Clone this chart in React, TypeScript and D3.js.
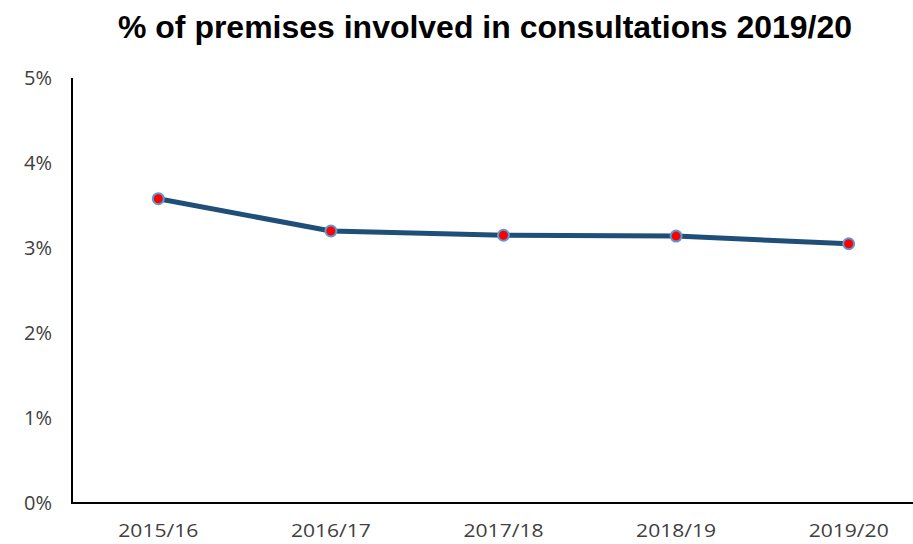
import React from "react";
import * as d3 from "d3";

const categories = ["2015/16", "2016/17", "2017/18", "2018/19", "2019/20"];
const values = [3.58, 3.2, 3.15, 3.14, 3.05];
const yTicks = [0, 1, 2, 3, 4, 5];
const title = "% of premises involved in consultations 2019/20";

export default function App() {
  const W = 913, H = 544;
  const left = 72, right = 935, top = 78, bottom = 503;
  const x = d3.scaleBand().domain(categories).range([left, right]);
  const y = d3.scaleLinear().domain([0, 5]).range([bottom, top]);
  const line = d3
    .line<number>()
    .x((_, i) => (x(categories[i]) as number) + x.bandwidth() / 2)
    .y((d) => y(d));
  const tickFont = "'Open Sans', 'Liberation Sans', sans-serif";
  return (
    <svg
      width={W}
      height={H}
      style={{ position: "absolute", left: 0, top: 0, background: "#fff" }}
    >
      <text
        x={485}
        y={38}
        textAnchor="middle"
        fontFamily="'Liberation Sans Narrow', 'Arial Narrow', 'Liberation Sans', sans-serif"
        fontWeight="bold"
        fontSize={31}
        textLength={734}
        lengthAdjust="spacingAndGlyphs"
        fill="#000"
      >
        {title}
      </text>
      {yTicks.map((t) => (
        <text
          key={t}
          x={52}
          y={y(t)}
          dy="0.36em"
          textAnchor="end"
          fontFamily={tickFont}
          fontSize={20}
          fill="#404040"
        >
          {t + "%"}
        </text>
      ))}
      {categories.map((c) => (
        <text
          key={c}
          x={(x(c) as number) + x.bandwidth() / 2}
          y={537}
          textAnchor="middle"
          fontFamily={tickFont}
          fontSize={19}
          textLength={80}
          lengthAdjust="spacingAndGlyphs"
          fill="#404040"
        >
          {c}
        </text>
      ))}
      <line x1={left} x2={left} y1={top} y2={bottom} stroke="#000" strokeWidth={2} />
      <line x1={left - 1} x2={W} y1={bottom} y2={bottom} stroke="#000" strokeWidth={2} />
      <path d={line(values) || ""} fill="none" stroke="#1f4e79" strokeWidth={5} strokeLinejoin="round" />
      {values.map((v, i) => (
        <circle
          key={i}
          cx={(x(categories[i]) as number) + x.bandwidth() / 2}
          cy={y(v)}
          r={5.5}
          fill="#ff0000"
          stroke="#5b9bd5"
          strokeWidth={2}
        />
      ))}
    </svg>
  );
}
